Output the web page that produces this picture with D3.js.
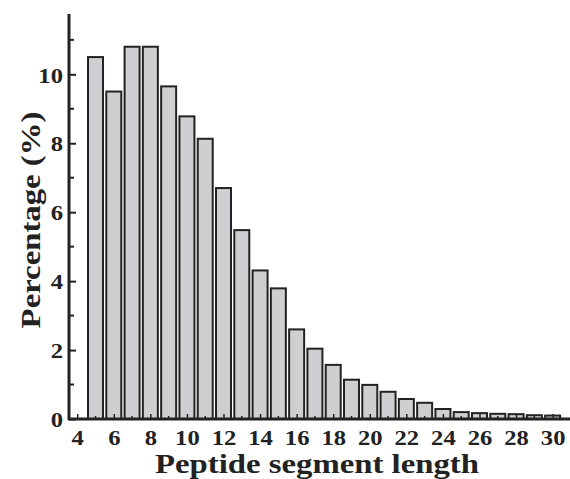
<!DOCTYPE html>
<html>
<head>
<meta charset="utf-8">
<script src="https://cdn.jsdelivr.net/npm/d3@7"></script>
<style>
  body { margin: 0; background: #fff; }
  svg text { font-family: "Liberation Serif", "Times New Roman", serif; font-weight: bold; fill: #222; }
</style>
</head>
<body>
<div id="app"></div>
<script>
// peptide segment length (aa) and share of segments (%)
const lengths = [5, 6, 7, 8, 9, 10, 11, 12, 13, 14, 15, 16, 17, 18, 19, 20, 21, 22, 23, 24, 25, 26, 27, 28, 29, 30];
const percents = [10.5, 9.5, 10.8, 10.8, 9.65, 8.78, 8.13, 6.7, 5.48, 4.31, 3.79, 2.6, 2.04, 1.57, 1.14, 0.99, 0.79, 0.58, 0.47, 0.29, 0.2, 0.17, 0.15, 0.14, 0.11, 0.1];
const xTicks = [4, 6, 8, 10, 12, 14, 16, 18, 20, 22, 24, 26, 28, 30];
const yTicks = [0, 2, 4, 6, 8, 10];

const W = 570, H = 479;
const m = { t: 14, r: 0, b: 60, l: 69 };

const svg = d3.select("#app").append("svg")
    .attr("width", W)
    .attr("height", H);

const x = d3.scaleLinear().domain([3.55, 30.95]).range([m.l, W - m.r]);
const y = d3.scaleLinear().domain([0, 11.75]).range([H - m.b + 0, m.t]);
const base = y(0);
const barW = (x(1) - x(0)) * 0.82;

// bars
svg.append("g")
  .selectAll("rect")
  .data(lengths)
  .join("rect")
    .attr("x", (d) => x(d) - barW / 2)
    .attr("y", (d, i) => y(percents[i]))
    .attr("width", barW)
    .attr("height", (d, i) => base - y(percents[i]))
    .attr("fill", "#cfcfd1")
    .attr("stroke", "#222")
    .attr("stroke-width", 2);

// y axis, ticks inside
const yAxis = svg.append("g")
    .attr("transform", "translate(" + m.l + ",0)")
    .call(d3.axisRight(y).tickValues(yTicks).tickSize(7).tickFormat(d3.format("d")));
yAxis.select(".domain").remove();
yAxis.selectAll("line").attr("stroke", "#222").attr("stroke-width", 2);
yAxis.selectAll("text")
    .attr("x", 0)
    .attr("dy", "0.35em")
    .attr("transform", "translate(-6,0) scale(1.12,1)")
    .style("text-anchor", "end")
    .style("font-size", "22px");

svg.append("g")
  .selectAll("line")
  .data(d3.range(1, 12, 2))
  .join("line")
    .attr("x1", m.l).attr("x2", m.l + 5)
    .attr("y1", (d) => y(d)).attr("y2", (d) => y(d))
    .attr("stroke", "#222").attr("stroke-width", 2);

// x axis, ticks inside
const xAxis = svg.append("g")
    .attr("transform", "translate(0," + base + ")")
    .call(d3.axisTop(x).tickValues(xTicks).tickSize(5).tickFormat(d3.format("d")));
xAxis.select(".domain").remove();
xAxis.selectAll("line").attr("stroke", "#222").attr("stroke-width", 1.5);
xAxis.selectAll("text")
    .attr("y", 0)
    .attr("dy", "0")
    .attr("transform", "translate(0,26) scale(1.12,1)")
    .style("font-size", "22px");

svg.append("g")
  .selectAll("line")
  .data(d3.range(5, 31, 2))
  .join("line")
    .attr("x1", (d) => x(d)).attr("x2", (d) => x(d))
    .attr("y1", base).attr("y2", base - 3)
    .attr("stroke", "#222").attr("stroke-width", 1.5);

// axis lines
svg.append("line")
    .attr("x1", m.l).attr("x2", m.l)
    .attr("y1", m.t).attr("y2", base + 1)
    .attr("stroke", "#222").attr("stroke-width", 3);
svg.append("line")
    .attr("x1", m.l - 1).attr("x2", W)
    .attr("y1", base).attr("y2", base)
    .attr("stroke", "#222").attr("stroke-width", 3);

// titles
svg.append("text")
    .attr("transform", "translate(317,473) scale(1.17,1)")
    .style("text-anchor", "middle")
    .style("font-size", "28px")
    .text("Peptide segment length");

svg.append("text")
    .attr("transform", "translate(40,220) rotate(-90) scale(1.17,1)")
    .style("text-anchor", "middle")
    .style("font-size", "28px")
    .text("Percentage (%)");
</script>
</body>
</html>
